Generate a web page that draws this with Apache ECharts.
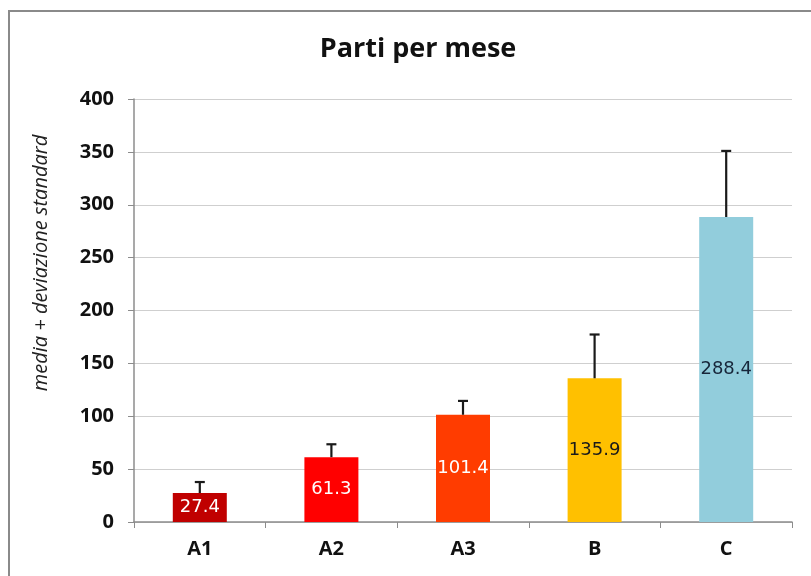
<!DOCTYPE html>
<html>
<head>
<meta charset="utf-8">
<script src="https://cdn.jsdelivr.net/npm/echarts@6/dist/echarts.min.js"></script>
<style>html,body{margin:0;padding:0;background:#fff}#c{width:811px;height:576px}</style>
</head>
<body>
<div id="c"></div>
<script>
var categories = ['A1', 'A2', 'A3', 'B', 'C'];
var means = [27.4, 61.3, 101.4, 135.9, 288.4];
var stdDevs = [10.4, 12.2, 13.1, 41.4, 62.5];
var barColors = ['#C00000', '#FF0000', '#FF3C00', '#FFC000', '#92CDDC'];
var labelColors = ['#ffffff', '#ffffff', '#ffffff', '#1a1a1a', '#17263a'];
var yTicks = [0, 50, 100, 150, 200, 250, 300, 350, 400];

var chart = echarts.init(document.getElementById('c'));
var barData = means.map(function (v, i) {
  return {
    value: v,
    itemStyle: { color: barColors[i] },
    label: { color: labelColors[i] }
  };
});
var errData = means.map(function (v, i) { return [i, v, v + stdDevs[i]]; });

chart.setOption({
  animation: false,
  backgroundColor: '#ffffff',
  title: {
    text: 'Parti per mese',
    left: 413,
    textAlign: 'center',
    top: 31,
    textStyle: { fontFamily: 'Open Sans', fontSize: 27, fontWeight: 'bold', color: '#111' }
  },
  graphic: [
    {
      type: 'rect',
      shape: { x: 9, y: 11, width: 900, height: 700 },
      style: { fill: 'none', stroke: '#8a8a8a', lineWidth: 2 },
      silent: true
    },
    {
      type: 'text',
      x: 41,
      y: 263,
      rotation: Math.PI / 2,
      style: {
        text: 'media + deviazione standard',
        fontFamily: 'Open Sans',
        fontStyle: 'italic',
        fontSize: 20,
        fill: '#222',
        align: 'center',
        verticalAlign: 'middle'
      }
    }
  ],
  grid: { left: 134, right: 19, top: 99, bottom: 54 },
  xAxis: {
    type: 'category',
    data: categories,
    axisLine: { lineStyle: { color: '#8c8c8c', width: 1.5 } },
    axisTick: { show: true, length: 6, lineStyle: { color: '#8c8c8c' } },
    axisLabel: { margin: 17, fontFamily: 'Open Sans', fontSize: 20, fontWeight: 'bold', color: '#111' }
  },
  yAxis: {
    type: 'value',
    min: yTicks[0],
    max: yTicks[yTicks.length - 1],
    interval: 50,
    axisLine: { show: true, lineStyle: { color: '#8c8c8c', width: 1.5 } },
    axisTick: { show: true, length: 6, lineStyle: { color: '#8c8c8c' } },
    axisLabel: { margin: 20, fontFamily: 'Open Sans', fontSize: 20, fontWeight: 'bold', color: '#111' },
    splitLine: { lineStyle: { color: '#cfcfcf', width: 1 } }
  },
  series: [
    {
      type: 'bar',
      data: barData,
      barWidth: 54,
      label: {
        show: true,
        position: 'inside',
        fontFamily: 'DejaVu Sans',
        fontSize: 18,
        fontWeight: 500,
        formatter: function (p) { return p.value.toFixed(1); }
      },
      z: 2
    },
    {
      type: 'custom',
      data: errData,
      z: 3,
      renderItem: function (params, api) {
        var x = api.value(0);
        var lo = api.coord([x, api.value(1)]);
        var hi = api.coord([x, api.value(2)]);
        var half = 5;
        var st = { stroke: '#1a1a1a', lineWidth: 2.2 };
        return {
          type: 'group',
          children: [
            { type: 'line', shape: { x1: lo[0], y1: lo[1], x2: hi[0], y2: hi[1] }, style: st },
            { type: 'line', shape: { x1: hi[0] - half, y1: hi[1], x2: hi[0] + half, y2: hi[1] }, style: st }
          ]
        };
      }
    }
  ]
});
</script>
</body>
</html>
